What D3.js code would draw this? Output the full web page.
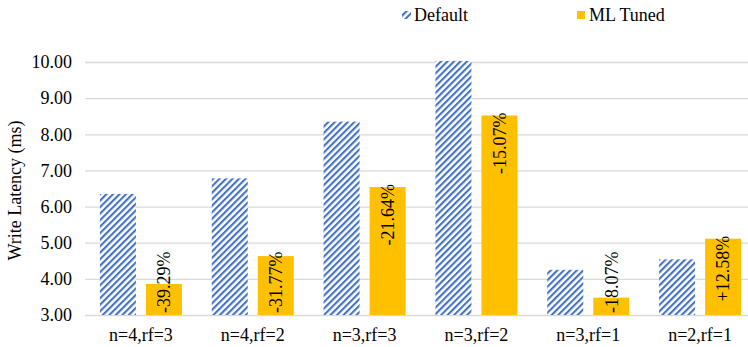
<!DOCTYPE html>
<html><head><meta charset="utf-8">
<script src="https://cdn.jsdelivr.net/npm/d3@7"></script>
<style>body{margin:0;background:#fff}svg{display:block}</style>
</head><body><svg id="c" width="748" height="347"></svg>
<script>
const categories = ["n=4,rf=3","n=4,rf=2","n=3,rf=3","n=3,rf=2","n=3,rf=1","n=2,rf=1"];
const defaultValues = [6.35, 6.78, 8.35, 10.03, 4.25, 4.54];
const tunedValues = [3.86, 4.63, 6.54, 8.52, 3.48, 5.11];
const changeLabels = ["-39.29%","-31.77%","-21.64%","-15.07%","-18.07%","+12.58%"];
const yTicks = [3,4,5,6,7,8,9,10];
const seriesNames = ["Default","ML Tuned"];

const FONT = "Liberation Serif";
const FS = 18;
function serif(sel){ return sel.attr("font-family",FONT).attr("font-size",FS).style("font-family",FONT).style("font-size",FS+"px"); }

const svg = d3.select("#c");
const W = 748, H = 347;
const m = {left:85, right:-8, top:62, bottom:32};
const x = d3.scaleBand().domain(categories).range([m.left, W - m.right]).paddingInner(0).paddingOuter(0);
const y = d3.scaleLinear().domain([3,10]).range([H - m.bottom, m.top]);

const defs = svg.append("defs");
const pat = defs.append("pattern").attr("id","hatch").attr("patternUnits","userSpaceOnUse")
  .attr("width",4.6).attr("height",4.6).attr("patternTransform","rotate(45)");
pat.append("rect").attr("width",4.6).attr("height",4.6).attr("fill","#fff");
pat.append("rect").attr("x",0).attr("y",0).attr("width",2.1).attr("height",4.6).attr("fill","#4472C4");

// gridlines + y ticks
const yAxis = d3.axisLeft(y).tickValues(yTicks).tickFormat(d3.format(".2f")).tickSize(-(W - m.left)).tickPadding(13);
const ga = svg.append("g").attr("transform",`translate(${m.left},0)`).call(yAxis);
ga.attr("font-family",null).attr("font-size",null);
ga.select(".domain").remove();
ga.selectAll(".tick line").attr("stroke","#d9d9d9").attr("stroke-width",1.3);
serif(ga.selectAll(".tick text")).attr("fill","#000");

const xAxis = d3.axisBottom(x).tickSize(0).tickPadding(13);
const gx = svg.append("g").attr("transform",`translate(0,${H - m.bottom})`).call(xAxis);
gx.attr("font-family",null).attr("font-size",null);
gx.select(".domain").remove();
serif(gx.selectAll(".tick text")).attr("fill","#000");

const bw = 36, gap = 10;
const grp = svg.append("g");
grp.selectAll("rect.def").data(defaultValues).join("rect").attr("class","def")
  .attr("x",(d,i)=>x(categories[i]) + x.bandwidth()/2 - gap/2 - bw)
  .attr("y",d=>y(d)).attr("width",bw).attr("height",d=>y(3)-y(d)).attr("fill","url(#hatch)");
grp.selectAll("rect.tun").data(tunedValues).join("rect").attr("class","tun")
  .attr("x",(d,i)=>x(categories[i]) + x.bandwidth()/2 + gap/2)
  .attr("y",d=>y(d)).attr("width",bw).attr("height",d=>y(3)-y(d)).attr("fill","#FFC000");

// labels
const lbl = svg.append("g");
tunedValues.forEach((v,i)=>{
  const cx = x(categories[i]) + x.bandwidth()/2 + gap/2 + bw/2;
  const t = serif(lbl.append("text")).attr("text-anchor","end").attr("dy","0.35em").text(changeLabels[i]);
  const len = t.node().getComputedTextLength();
  const endY = Math.min(y(v) - 3, y(3) - 2 - len);
  t.attr("transform",`translate(${cx},${endY}) rotate(-90)`);
});

// y title
serif(svg.append("text")).attr("transform",`translate(15,${(y(3)+y(10))/2 + 2}) rotate(-90)`)
  .attr("text-anchor","middle").attr("dy","0.35em")
  .text("Write Latency (ms)");

// legend
const lg = svg.append("g");
const legendX = [402, 577];
seriesNames.forEach((s,i)=>{
  lg.append("rect").attr("x",legendX[i]).attr("y",11).attr("width",i===0?9:8).attr("height",8)
    .attr("fill", i===0 ? "url(#hatch)" : "#FFC000");
  serif(lg.append("text")).attr("x",legendX[i] + 12).attr("y",15).attr("dy","0.35em").text(s);
});
</script></body></html>
